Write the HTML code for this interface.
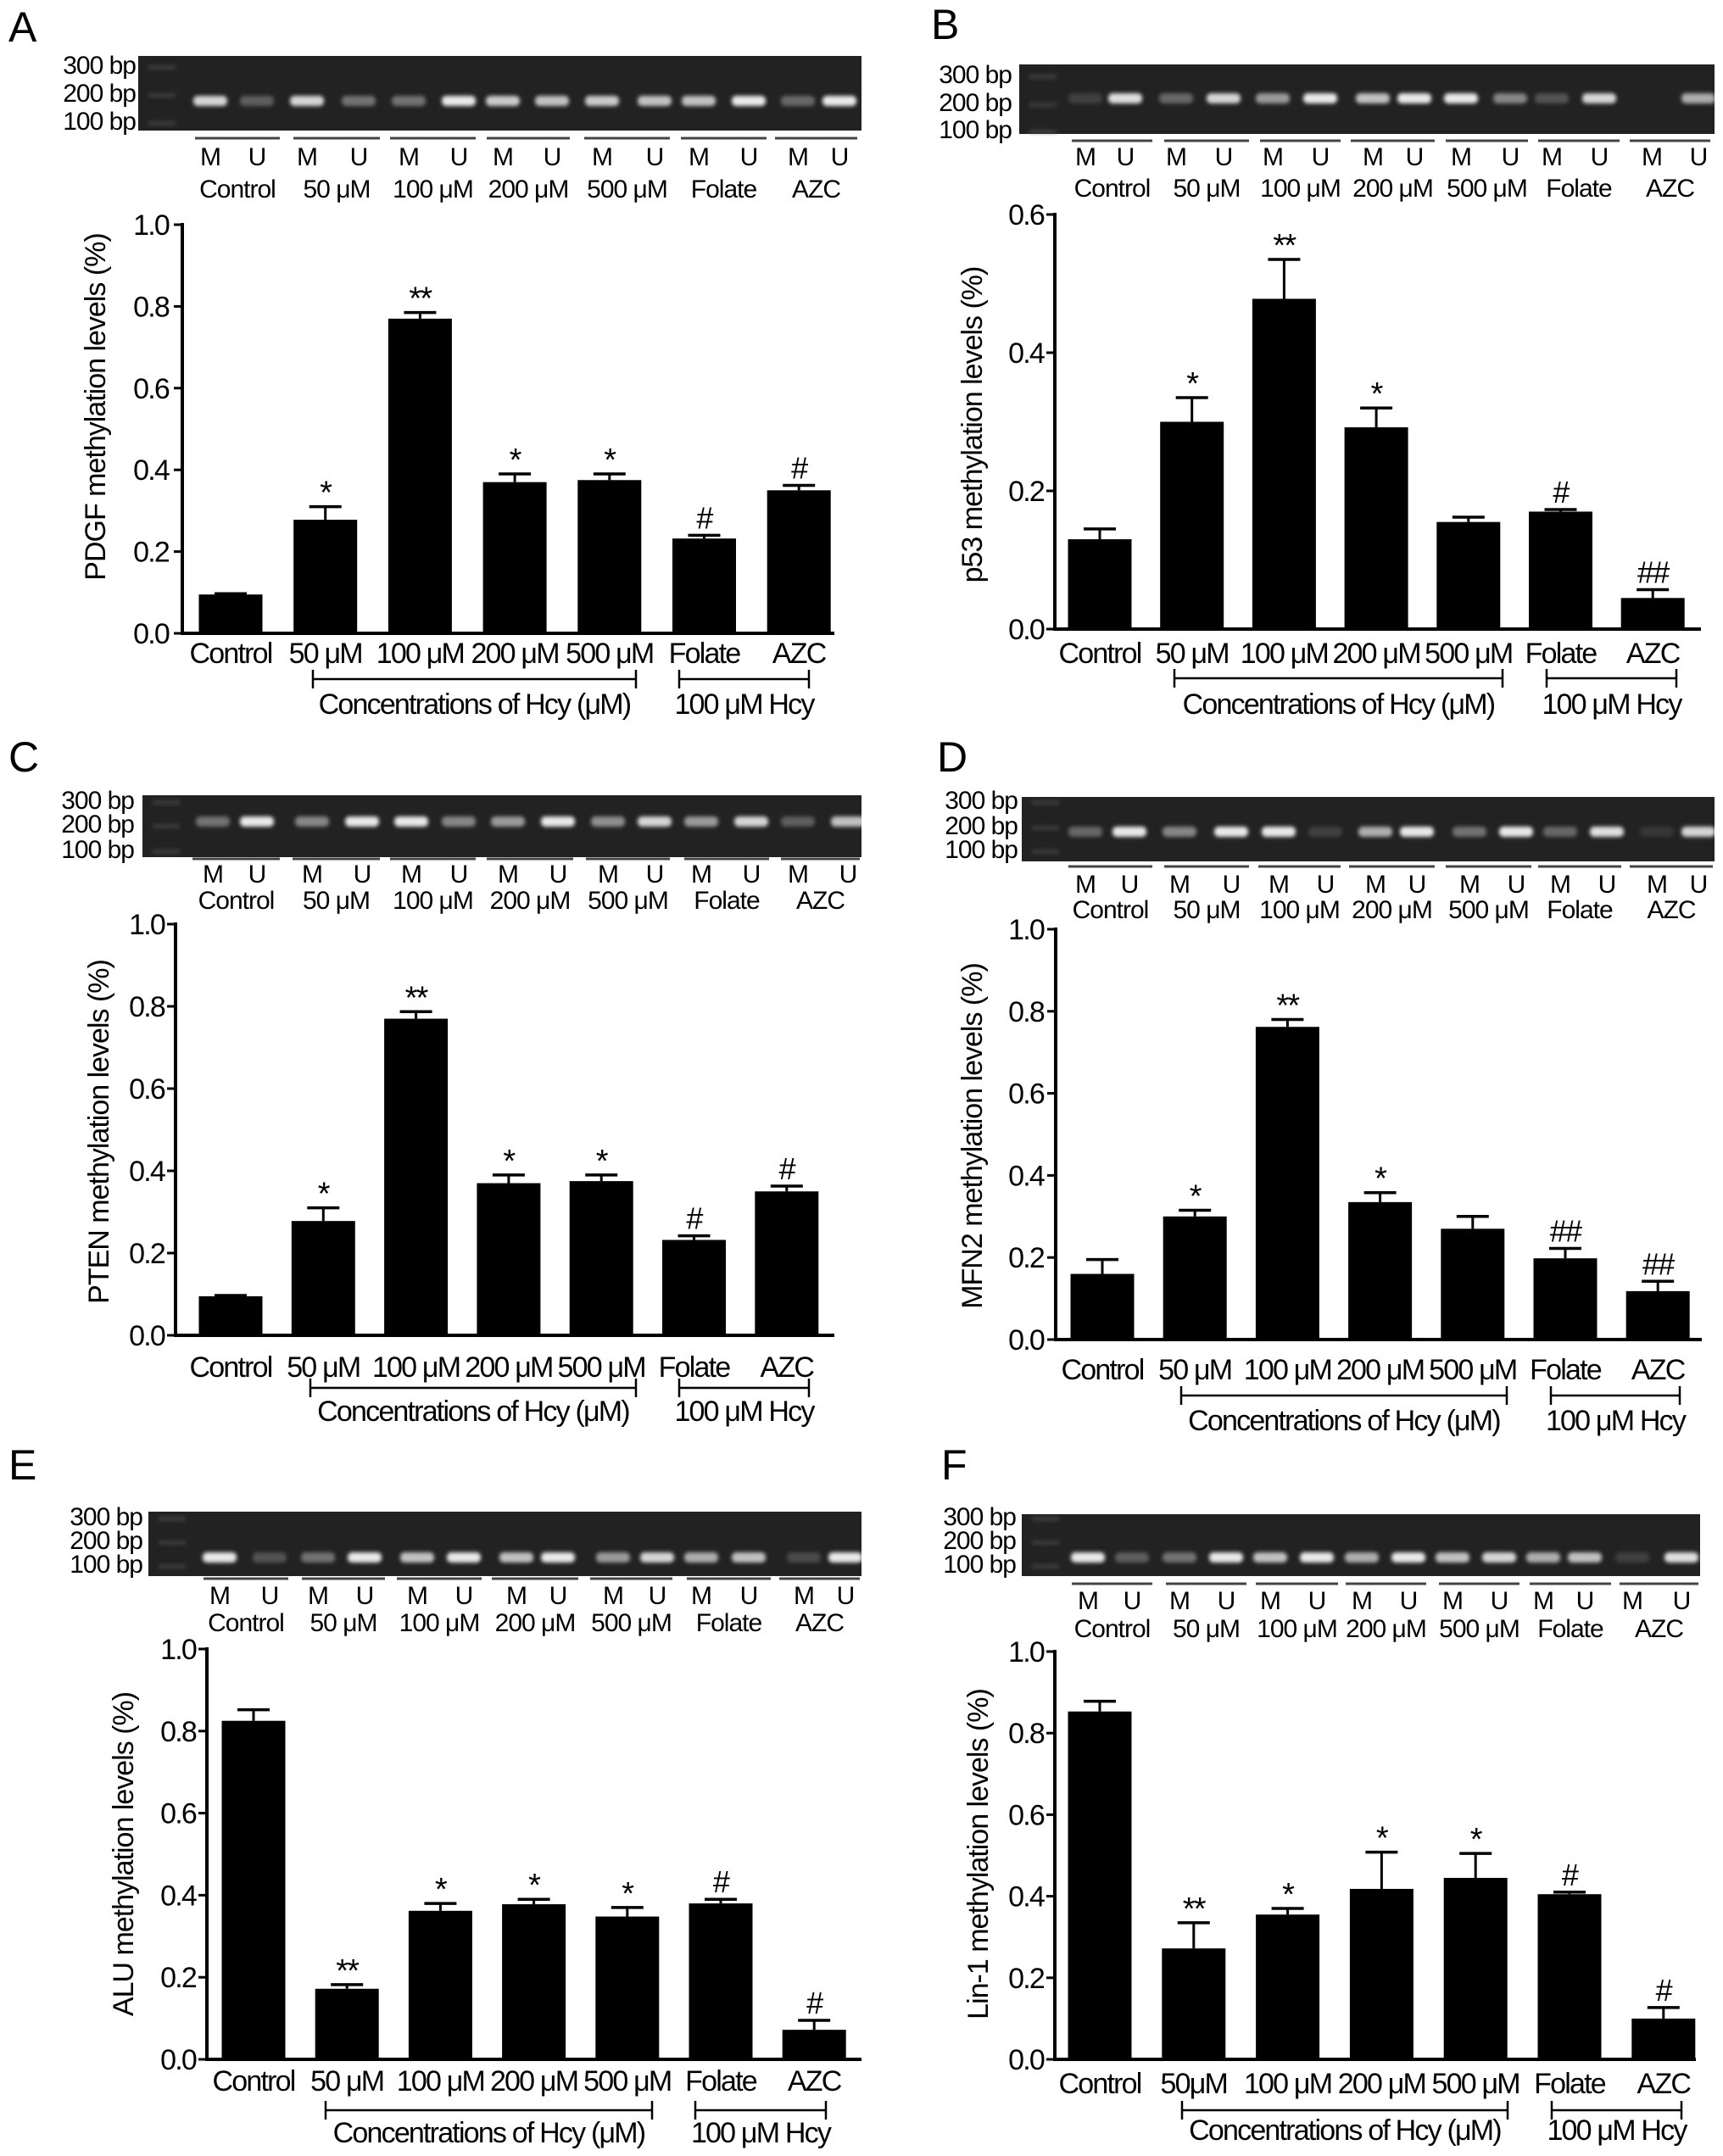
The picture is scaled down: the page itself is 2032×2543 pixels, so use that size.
<!DOCTYPE html>
<html><head><meta charset="utf-8">
<style>html,body{margin:0;padding:0;background:#fff;}svg{display:block;}</style>
</head><body>
<svg id="s" xmlns="http://www.w3.org/2000/svg" width="2032" height="2543" viewBox="0 0 2032 2543" font-family="Liberation Sans, Arial, sans-serif">
<defs><filter id="bl" x="-30%" y="-60%" width="160%" height="220%"><feGaussianBlur stdDeviation="2.5"/></filter></defs>
</svg>
<script>
var S=document.getElementById('s');var h='';
function T(x,y,t,sz,anc,extra){var ls=sz>=34?-1.8:(sz>=30?-1:0);h+='<text x="'+x+'" y="'+y+'" font-size="'+sz+'" letter-spacing="'+ls+'" text-anchor="'+(anc||'start')+'" '+(extra||'')+'>'+t+'</text>';}
function L(x1,y1,x2,y2,w,c){h+='<line x1="'+x1+'" y1="'+y1+'" x2="'+x2+'" y2="'+y2+'" stroke="'+(c||'#000')+'" stroke-width="'+w+'"/>';}
var mu='\u03bcM';
var groups=['Control','50 '+mu,'100 '+mu,'200 '+mu,'500 '+mu,'Folate','AZC'];
var P=[
{lab:'A',lx:10,ly:49,gel:[163,66,1016,154],bpx:160,bpy:[87,120,153],band:119,
 lanes:[248,303,362,423,482,541,593,651,710,772,824,883,941,990],
 ul:163,seg:[[228,332],[344,450],[458,563],[572,674],[687,792],[801,906],[912,1013]],
 mu:195,gy:233,ax:215,y1:265,y0:747,xe:984,c0:272,sp:111.7,tr:199,ymax:1,ticks:[0,.2,.4,.6,.8,1],
 v:[[.095,.097],[.278,.31],[.77,.785],[.37,.39],[.375,.39],[.232,.24],[.35,.362]],mk:['','*','**','*','*','#','#'],
 xl:782,by:801,b1:[369,750],b2:[801,954],bt:842,ylx:112,yly:480,ylab:'PDGF methylation levels (%)',
 it:[.9,.3,.9,.4,.4,1,.85,.8,.85,.8,.8,1,.35,1],xls:groups},
{lab:'B',lx:1098,ly:46,gel:[1202,76,2022,158],bpx:1193,bpy:[98,131,163],band:116,
 lanes:[1280,1327,1387,1443,1501,1557,1619,1668,1723,1781,1830,1886,1948,2003],
 ul:166,seg:[[1262,1361],[1371,1475],[1484,1583],[1591,1694],[1703,1804],[1812,1912],[1920,2019]],
 mu:195,gy:232,ax:1244,y1:253,y0:742,xe:2006,c0:1297,sp:108.7,tr:1231,ymax:.6,ticks:[0,.2,.4,.6],
 v:[[.13,.145],[.30,.335],[.478,.535],[.292,.32],[.155,.162],[.17,.173],[.045,.057]],mk:['','*','**','*','','#','##'],
 xl:782,by:800,b1:[1385,1772],b2:[1824,1977],bt:842,ylx:1146,yly:501,ylab:'p53 methylation levels (%)',
 it:[.15,.95,.35,.9,.6,1,.8,1,1,.5,.25,.9,0,.7],xls:groups},
{lab:'C',lx:10,ly:910,gel:[168,938,1016,1011],bpx:158,bpy:[954,982,1012],band:969,
 lanes:[251,303,368,427,485,541,599,658,717,772,827,886,941,1000],
 ul:1013,seg:[[225,332],[343,450],[458,563],[572,678],[689,792],[805,909],[919,1016]],
 mu:1041,gy:1072,ax:207,y1:1090,y0:1575,xe:984,c0:272,sp:109.3,tr:194,ymax:1,ticks:[0,.2,.4,.6,.8,1],
 v:[[.095,.097],[.278,.31],[.77,.787],[.37,.39],[.375,.39],[.232,.242],[.35,.363]],mk:['','*','**','*','*','#','#'],
 xl:1624,by:1637,b1:[366,750],b2:[801,954],bt:1676,ylx:116,yly:1335,ylab:'PTEN methylation levels (%)',
 it:[.4,1,.5,1,1,.5,.6,1,.55,.9,.6,.9,.3,.8],xls:groups},
{lab:'D',lx:1105,ly:910,gel:[1205,940,2022,1016],bpx:1200,bpy:[954,984,1012],band:981,
 lanes:[1280,1332,1391,1452,1508,1563,1622,1671,1733,1788,1840,1895,1954,2003],
 ul:1022,seg:[[1258,1361],[1371,1475],[1482,1583],[1589,1694],[1703,1808],[1812,1914],[1920,2022]],
 mu:1053,gy:1083,ax:1245,y1:1096,y0:1580,xe:2007,c0:1300,sp:109.2,tr:1231,ymax:1,ticks:[0,.2,.4,.6,.8,1],
 v:[[.16,.195],[.30,.315],[.762,.78],[.335,.358],[.27,.30],[.198,.222],[.118,.142]],mk:['','*','**','*','','##','##'],
 xl:1627,by:1646,b1:[1393,1777],b2:[1829,1981],bt:1687,ylx:1146,yly:1340,ylab:'MFN2 methylation levels (%)',
 it:[.35,1,.5,1,1,.15,.7,1,.4,1,.35,.95,.1,.9],xls:groups},
{lab:'E',lx:10,ly:1745,gel:[175,1783,1016,1859],bpx:168,bpy:[1799,1827,1855],band:1837,
 lanes:[259,318,375,430,492,547,609,658,723,775,827,883,948,997],
 ul:1862,seg:[[238,342],[354,456],[466,570],[578,684],[694,795],[808,911],[917,1016]],
 mu:1892,gy:1924,ax:244,y1:1945,y0:2429,xe:1016,c0:299,sp:110.2,tr:231,ymax:1,ticks:[0,.2,.4,.6,.8,1],
 v:[[.825,.852],[.172,.182],[.362,.38],[.378,.39],[.348,.37],[.38,.39],[.072,.095]],mk:['','**','*','*','*','#','#'],
 xl:2466,by:2489,b1:[384,769],b2:[820,974],bt:2527,ylx:145,yly:2187,ylab:'ALU methylation levels (%)',
 it:[1,.25,.4,1,.8,1,.8,1,.6,.9,.7,.8,.2,1],xls:groups},
{lab:'F',lx:1110,ly:1745,gel:[1205,1786,2005,1859],bpx:1198,bpy:[1799,1827,1855],band:1837,
 lanes:[1283,1335,1391,1446,1498,1553,1606,1661,1713,1768,1820,1869,1925,1983],
 ul:1868,seg:[[1262,1361],[1373,1472],[1479,1580],[1585,1684],[1695,1794],[1802,1902],[1908,2005]],
 mu:1898,gy:1931,ax:1244,y1:1948,y0:2429,xe:2000,c0:1297,sp:110.8,tr:1231,ymax:1,ticks:[0,.2,.4,.6,.8,1],
 v:[[.853,.878],[.272,.335],[.355,.37],[.418,.508],[.445,.505],[.405,.41],[.10,.127]],mk:['','**','*','*','*','#','#'],
 xl:2469,by:2489,b1:[1394,1778],b2:[1830,1983],bt:2524,ylx:1153,yly:2187,ylab:'Lin-1 methylation levels (%)',
 it:[1,.3,.4,1,.8,1,.7,1,.8,.9,.7,.8,.15,.95],xls:['Control','50'+mu,'100 '+mu,'200 '+mu,'500 '+mu,'Folate','AZC']}
];
P.forEach(function(p){
 T(p.lx,p.ly,p.lab,50);
 var g=p.gel;
 h+='<rect x="'+g[0]+'" y="'+g[1]+'" width="'+(g[2]-g[0])+'" height="'+(g[3]-g[1])+'" fill="#222"/>';
 var lad=g[0]+28;
 p.bpy.forEach(function(y,i){h+='<rect x="'+(lad-16)+'" y="'+(y-10)+'" width="32" height="5" fill="#666" opacity="0.4" filter="url(#bl)"/>';});
 ['300 bp','200 bp','100 bp'].forEach(function(t,i){T(p.bpx,p.bpy[i],t,30,'end');});
 p.lanes.forEach(function(x,i){var o=p.it[i]*0.9;if(o>0)h+='<rect x="'+(x-20)+'" y="'+(p.band-6)+'" width="40" height="12" rx="5" fill="#fff" opacity="'+o+'" filter="url(#bl)"/>';
  T(x,p.mu,i%2?'U':'M',30,'middle');});
 p.seg.forEach(function(s,i){L(s[0]+2,p.ul,s[1]-2,p.ul,3,'#444');T((s[0]+s[1])/2,p.gy,groups[i],30,'middle');});
 var sc=(p.y0-p.y1)/p.ymax;
 function Y(v){return p.y0-v*sc;}
 p.v.forEach(function(d,i){var cx=p.c0+i*p.sp;
  h+='<rect x="'+(cx-37.5)+'" y="'+Y(d[0])+'" width="75" height="'+(p.y0-Y(d[0]))+'" fill="#000"/>';
  L(cx,Y(d[0]),cx,Y(d[1]),3);L(cx-19,Y(d[1]),cx+19,Y(d[1]),3.5);
  if(p.mk[i]){var m=p.mk[i];if(m[0]=='#')T(cx,Y(d[1])-8,m,36,'middle');else T(cx,Y(d[1])-4,m,38,'middle');}
  T(cx,p.xl,p.xls[i],34,'middle');
 });
 L(p.ax,p.y1-2,p.ax,p.y0+2,4);L(p.ax-2,p.y0,p.xe,p.y0,4);
 p.ticks.forEach(function(t){var y=Y(t);L(p.ax-10,y,p.ax,y,3);T(p.tr,y+12,t.toFixed(1),34,'end');});
 L(p.b1[0],p.by,p.b1[1],p.by,2.5);L(p.b1[0],p.by-11,p.b1[0],p.by+11,2.5);L(p.b1[1],p.by-11,p.b1[1],p.by+11,2.5);
 L(p.b2[0],p.by,p.b2[1],p.by,2.5);L(p.b2[0],p.by-11,p.b2[0],p.by+11,2.5);L(p.b2[1],p.by-11,p.b2[1],p.by+11,2.5);
 T((p.b1[0]+p.b1[1])/2,p.bt,'Concentrations of Hcy ('+mu+')',34,'middle');
 T((p.b2[0]+p.b2[1])/2,p.bt,'100 '+mu+' Hcy',34,'middle');
 h+='<text x="0" y="0" font-size="34" letter-spacing="-1" text-anchor="middle" transform="translate('+(p.ylx+12)+','+p.yly+') rotate(-90)">'+p.ylab+'</text>';
});
S.insertAdjacentHTML('beforeend',h);
</script>
</body></html>
